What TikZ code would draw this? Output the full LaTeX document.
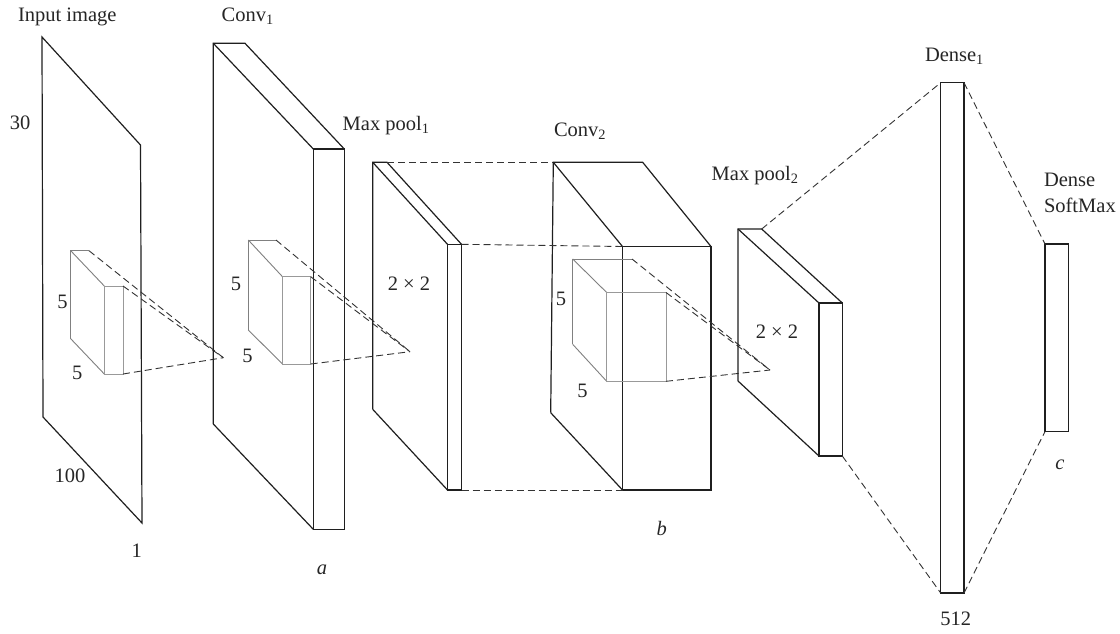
\documentclass[tikz,border=0pt]{standalone}
\usepackage{fontspec}
\setmainfont{Liberation Serif}
\begin{document}
\begin{tikzpicture}[x=1pt,y=-1pt,
  solidedge/.style={draw=black!88, line width=1.2pt, line join=miter},
  kernedge/.style={draw=black!50, line width=0.9pt},
  kernfront/.style={draw=black!40, line width=1.0pt},
  dashlink/.style={draw=black!80, line width=0.9pt, dash pattern=on 7pt off 4pt},
  lbl/.style={inner sep=0pt, outer sep=0pt, font=\fontsize{20.5}{24}\selectfont, text=black!85},
  boxnode/.style={draw=black!88, line width=1.2pt, inner sep=0pt, outer sep=0pt, anchor=north west}]
\useasboundingbox (0,0) rectangle (1120,633);
\fill[white] (0,0) rectangle (1120,633);

% ---------- Input image plane ----------
\coordinate (in-tl) at (42,37);
\coordinate (in-tr) at (140.5,145);
\coordinate (in-br) at (142,523);
\coordinate (in-bl) at (43,417);
\draw[solidedge] (in-tl) -- (in-tr) -- (in-br) -- (in-bl) -- cycle;

% kernel 1
\coordinate (k1-btl) at (70.7,250.7);
\coordinate (k1-btr) at (89,250.7);
\coordinate (k1-bbl) at (70.7,338.7);
\coordinate (k1-ftl) at (104.3,286);
\coordinate (k1-ftr) at (123,286);
\coordinate (k1-fbl) at (104.3,374);
\coordinate (k1-fbr) at (123,374);
\coordinate (ap1) at (223.3,357.7);
\draw[kernedge] (k1-bbl) -- (k1-btl) -- (k1-btr);
\draw[kernedge] (k1-btl) -- (k1-ftl);
\draw[kernedge] (k1-bbl) -- (k1-fbl);
\draw[kernfront] (k1-ftl) -- (k1-ftr) -- (k1-fbr) -- (k1-fbl) -- cycle;
\draw[dashlink] (k1-btr) -- (ap1);
\draw[dashlink] (k1-ftr) -- (ap1);
\draw[dashlink] (k1-fbr) -- (ap1);

% ---------- Conv1 slab ----------
\coordinate (c1-btl) at (213.3,43.3);
\coordinate (c1-btr) at (245,43.3);
\coordinate (c1-ftl) at (313.3,149);
\coordinate (c1-ftr) at (344.3,149);
\coordinate (c1-fbl) at (313.3,529.3);
\coordinate (c1-fbr) at (344.3,529.3);
\coordinate (c1-bbl) at (213.3,424);
\draw[solidedge] (c1-bbl) -- (c1-btl) -- (c1-btr) -- (c1-ftr);
\draw[solidedge] (c1-btl) -- (c1-ftl);
\draw[solidedge] (c1-bbl) -- (c1-fbl);
\draw[solidedge] (c1-ftl) -- (c1-ftr) -- (c1-fbr) -- (c1-fbl) -- cycle;

% kernel 2
\coordinate (k2-btl) at (248.3,240);
\coordinate (k2-btr) at (276,240);
\coordinate (k2-bbl) at (248.3,330);
\coordinate (k2-ftl) at (282.5,276.7);
\coordinate (k2-ftr) at (310.7,276.7);
\coordinate (k2-fbl) at (282.5,364);
\coordinate (k2-fbr) at (310.7,364);
\coordinate (ap2) at (410,351.7);
\draw[kernedge] (k2-bbl) -- (k2-btl) -- (k2-btr);
\draw[kernedge] (k2-btl) -- (k2-ftl);
\draw[kernedge] (k2-bbl) -- (k2-fbl);
\draw[kernfront] (k2-ftl) -- (k2-ftr) -- (k2-fbr) -- (k2-fbl) -- cycle;
\draw[dashlink] (k2-btr) -- (ap2);
\draw[dashlink] (k2-ftr) -- (ap2);
\draw[dashlink] (k2-fbr) -- (ap2);

% ---------- Max pool1 slab ----------
\coordinate (m1-btl) at (372.7,162.3);
\coordinate (m1-btr) at (387,162.3);
\coordinate (m1-ftl) at (447.5,244.3);
\coordinate (m1-ftr) at (461.5,244.3);
\coordinate (m1-fbl) at (447.5,490);
\coordinate (m1-fbr) at (461.5,490);
\coordinate (m1-bbl) at (372.7,409.3);
\draw[solidedge] (m1-bbl) -- (m1-btl) -- (m1-btr) -- (m1-ftr);
\draw[solidedge] (m1-btl) -- (m1-ftl);
\draw[solidedge] (m1-bbl) -- (m1-fbl);
\draw[solidedge] (m1-ftl) -- (m1-ftr) -- (m1-fbr) -- (m1-fbl) -- cycle;

% ---------- Conv2 block ----------
\coordinate (c2-btl) at (553.3,162.3);
\coordinate (c2-btr) at (642.7,162.3);
\coordinate (c2-ftl) at (622.5,246.5);
\coordinate (c2-ftr) at (711,246.5);
\coordinate (c2-fbl) at (622.5,490);
\coordinate (c2-fbr) at (711,490);
\coordinate (c2-bbl) at (550.7,412.7);
\draw[solidedge] (c2-bbl) -- (c2-btl) -- (c2-btr) -- (c2-ftr);
\draw[solidedge] (c2-btl) -- (c2-ftl);
\draw[solidedge] (c2-bbl) -- (c2-fbl);
\draw[solidedge] (c2-ftl) -- (c2-ftr) -- (c2-fbr) -- (c2-fbl) -- cycle;

\draw[dashlink] (m1-btr) -- (c2-btl);
\draw[dashlink] (m1-ftr) -- (c2-ftl);
\draw[dashlink] (m1-fbr) -- (c2-fbl);

% kernel 3
\coordinate (k3-btl) at (572.7,259);
\coordinate (k3-btr) at (632,259);
\coordinate (k3-bbl) at (572.7,344.3);
\coordinate (k3-ftl) at (606.7,292.5);
\coordinate (k3-ftr) at (666,292.5);
\coordinate (k3-fbl) at (606.7,381.3);
\coordinate (k3-fbr) at (666,381.3);
\coordinate (ap3) at (770,370);
\draw[kernedge] (k3-bbl) -- (k3-btl) -- (k3-btr);
\draw[kernedge] (k3-btl) -- (k3-ftl);
\draw[kernedge] (k3-bbl) -- (k3-fbl);
\draw[kernfront] (k3-ftl) -- (k3-ftr) -- (k3-fbr) -- (k3-fbl) -- cycle;
\draw[dashlink] (k3-btr) -- (ap3);
\draw[dashlink] (k3-ftr) -- (ap3);
\draw[dashlink] (k3-fbr) -- (ap3);

% ---------- Max pool2 slab ----------
\coordinate (m2-btl) at (738,229);
\coordinate (m2-btr) at (761.7,229);
\coordinate (m2-ftl) at (819,303);
\coordinate (m2-ftr) at (842.3,303);
\coordinate (m2-fbl) at (819,456);
\coordinate (m2-fbr) at (842.3,456);
\coordinate (m2-bbl) at (738,381);
\draw[solidedge] (m2-bbl) -- (m2-btl) -- (m2-btr) -- (m2-ftr);
\draw[solidedge] (m2-btl) -- (m2-ftl);
\draw[solidedge] (m2-bbl) -- (m2-fbl);
\draw[solidedge] (m2-ftl) -- (m2-ftr) -- (m2-fbr) -- (m2-fbl) -- cycle;

% ---------- Dense layers ----------
\node[boxnode, minimum width=23.3pt, minimum height=510.3pt] (d1) at (940.7,82.7) {};
\node[boxnode, minimum width=23.3pt, minimum height=187.5pt] (sm) at (1045,244) {};

\draw[dashlink] (m2-btr) -- (d1.north west);
\draw[dashlink] (m2-fbr) -- (d1.south west);
\draw[dashlink] (d1.north east) -- (sm.north west);
\draw[dashlink] (d1.south east) -- (sm.south west);

% ---------- Labels ----------
\node[lbl, anchor=base west] (t-input) at (18,21) {Input image};
\node[lbl, anchor=base west] (t-conv1) at (221.7,21) {Conv\textsubscript{1}};
\node[lbl, anchor=base] (t-30) at (20,129.3) {30};
\node[lbl, anchor=base] (t-k1a) at (62.5,308) {5};
\node[lbl, anchor=base] (t-k1b) at (77.3,379.3) {5};
\node[lbl, anchor=base] (t-100) at (70,482.7) {100};
\node[lbl, anchor=base] (t-1) at (136.7,557.3) {1};
\node[lbl, anchor=base] (t-a) at (322,574) {\textit{a}};
\node[lbl, anchor=base] (t-k2a) at (236,290) {5};
\node[lbl, anchor=base] (t-k2b) at (247.5,362.7) {5};
\node[lbl, anchor=base west] (t-mp1) at (342.7,130) {Max pool\textsubscript{1}};
\node[lbl, anchor=base] (t-22a) at (409,290) {2 × 2};
\node[lbl, anchor=base west] (t-conv2) at (554,136) {Conv\textsubscript{2}};
\node[lbl, anchor=base] (t-k3a) at (561,305) {5};
\node[lbl, anchor=base] (t-k3b) at (582.5,397.7) {5};
\node[lbl, anchor=base] (t-b) at (661.7,535) {\textit{b}};
\node[lbl, anchor=base west] (t-mp2) at (711.7,180.2) {Max pool\textsubscript{2}};
\node[lbl, anchor=base] (t-22b) at (777,338) {2 × 2};
\node[lbl, anchor=base west] (t-dense1) at (925,61.3) {Dense\textsubscript{1}};
\node[lbl, anchor=base] (t-512) at (955.7,625) {512};
\node[lbl, anchor=base west] (t-dense) at (1044,186.3) {Dense};
\node[lbl, anchor=base west] (t-softmax) at (1044,212.5) {SoftMax};
\node[lbl, anchor=base] (t-c) at (1060,469.8) {\textit{c}};
\end{tikzpicture}
\end{document}
